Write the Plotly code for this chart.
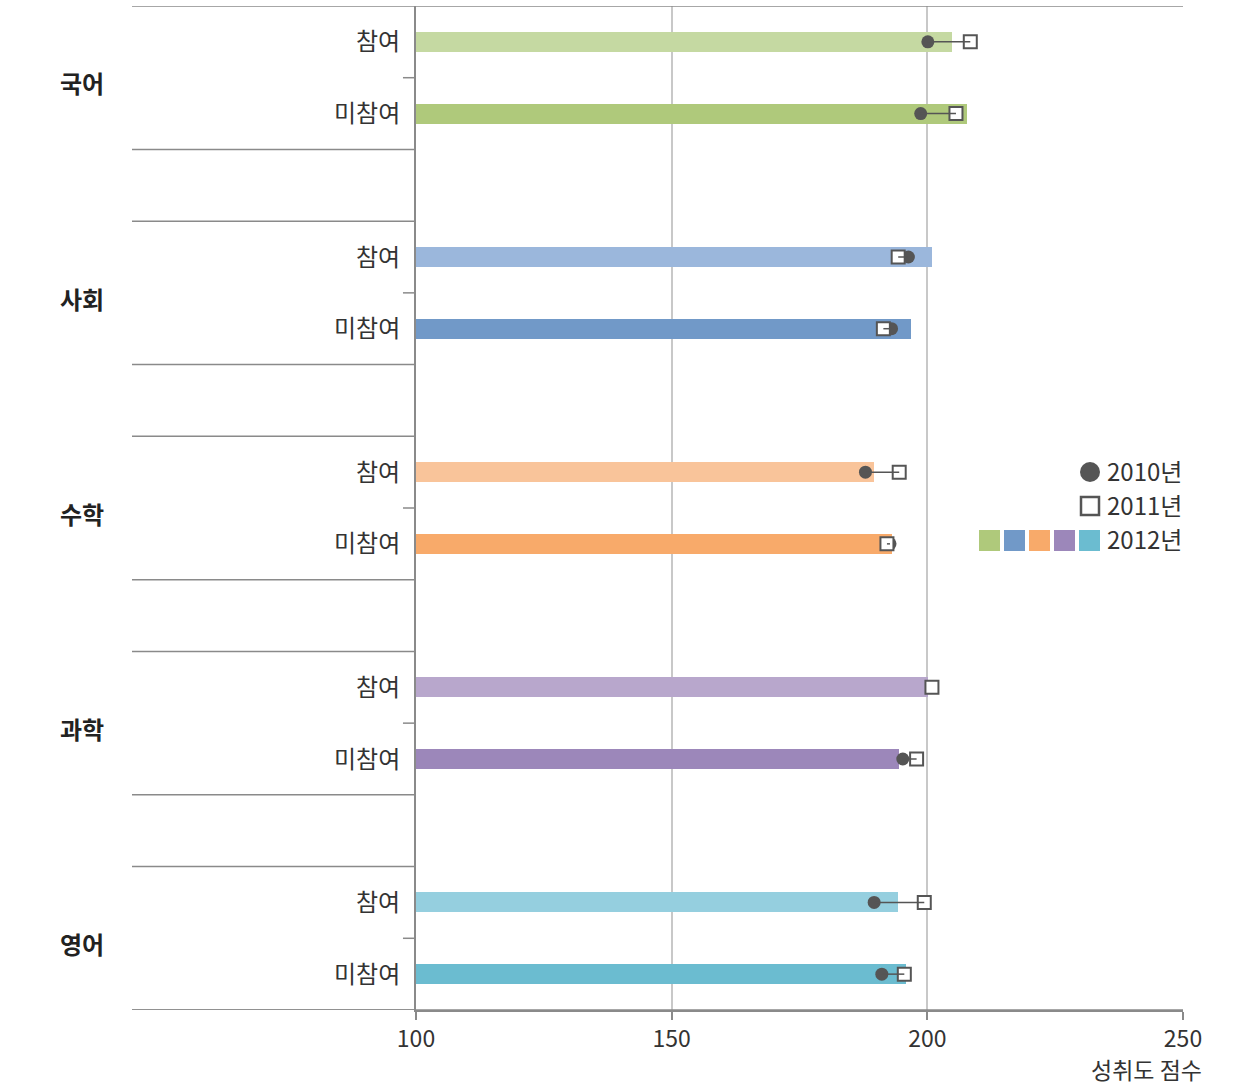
import plotly.graph_objects as go

subjects = ["국어", "사회", "수학", "과학", "영어"]
groups = ["참여", "미참여"]
score_2012 = [[204.8, 207.8], [200.9, 196.8], [189.6, 193.0], [200.1, 194.5], [194.2, 195.8]]
score_2010 = [[200.1, 198.7], [196.3, 193.0], [187.9, 192.7], [200.9, 195.2], [189.6, 191.1]]
score_2011 = [[208.4, 205.6], [194.3, 191.4], [194.5, 192.1], [200.9, 197.9], [199.4, 195.5]]
bar_colors = [["#c5d9a2", "#afc97b"], ["#9bb7dc", "#7199c8"], ["#f9c49a", "#f8aa6a"],
              ["#b8a7cc", "#9c87ba"], ["#95cfdf", "#6bbcd0"]]
legend_colors = ["#afc97b", "#7199c8", "#f8aa6a", "#9c87ba", "#6bbcd0"]
x_ticks = [100, 150, 200, 250]
x_title = "성취도 점수"
legend_labels = ["2010년", "2011년", "2012년"]

FONT = "Noto Sans CJK KR"
AX = "#8a8a8a"
DARK = "#555555"

fig = go.Figure()

ys, xs, cols = [], [], []
x10, x11 = [], []
for g in range(len(subjects)):
    for r in range(2):
        ys.append(3 * g + 0.5 + r)
        xs.append(score_2012[g][r])
        cols.append(bar_colors[g][r])
        x10.append(score_2010[g][r])
        x11.append(score_2011[g][r])

fig.add_trace(go.Bar(x=xs, y=ys, orientation="h", marker=dict(color=cols, line=dict(width=0)),
                     width=0.28, showlegend=False, hoverinfo="x"))

fig.add_trace(go.Scatter(x=x10, y=ys, mode="markers",
                         marker=dict(symbol="circle", size=13, color=DARK), showlegend=False))
fig.add_trace(go.Scatter(x=x11, y=ys, mode="markers",
                         marker=dict(symbol="square", size=13, color="white",
                                     line=dict(color=DARK, width=2)), showlegend=False))
lx, ly = [], []
for a, b, y in zip(x10, x11, ys):
    lx += [a, b, None]
    ly += [y, y, None]
fig.add_trace(go.Scatter(x=lx, y=ly, mode="lines", line=dict(color=DARK, width=1.5),
                         showlegend=False, hoverinfo="skip"))

shapes = []
annotations = []
left = (132 - 416) / 767
for g in range(len(subjects)):
    for yy in (3 * g, 3 * g + 2):
        x1 = 1 if yy == 0 else 0
        shapes.append(dict(type="line", xref="paper", yref="y", x0=left, x1=x1, y0=yy, y1=yy,
                           line=dict(color=AX, width=1.5)))
    shapes.append(dict(type="line", xref="paper", yref="y", x0=-0.017, x1=0, y0=3 * g + 1, y1=3 * g + 1,
                       line=dict(color=AX, width=1.5)))
    annotations.append(dict(text=subjects[g], xref="paper", yref="y", x=(82 - 416) / 767, y=3 * g + 1.1,
                            xanchor="center", yanchor="middle", showarrow=False, yshift=2,
                            font=dict(family=FONT, size=24, color="#222", weight=600)))
    for r in range(2):
        annotations.append(dict(text=groups[r], xref="paper", yref="y", x=0, xshift=-14, yshift=2,
                                y=3 * g + 0.5 + r, xanchor="right", yanchor="middle", showarrow=False,
                                font=dict(family=FONT, size=24, color="#333")))
# bottom line extended to the left
shapes.append(dict(type="line", xref="paper", yref="y", x0=left, x1=1, y0=14, y1=14,
                   line=dict(color=AX, width=1.5)))

annotations.append(dict(text=x_title, xref="paper", yref="paper", x=(1204 - 416) / 767, y=(1010 - 1069) / 1004,
                        xanchor="right", yanchor="middle", showarrow=False,
                        font=dict(family=FONT, size=23, color="#333")))

# legend
def px(x):
    return (x - 416) / 767

def py(y):
    return (1010 - y) / 1004

shapes.append(dict(type="circle", xref="paper", yref="paper", x0=px(1080), x1=px(1100),
                   y0=py(482), y1=py(462), fillcolor=DARK, line=dict(width=0)))
shapes.append(dict(type="rect", xref="paper", yref="paper", x0=px(1081), x1=px(1099),
                   y0=py(515), y1=py(497), fillcolor="white", line=dict(color=DARK, width=2.5)))
for i, c in enumerate(legend_colors):
    x0 = 979 + 25 * i
    shapes.append(dict(type="rect", xref="paper", yref="paper", x0=px(x0), x1=px(x0 + 21),
                       y0=py(551), y1=py(530), fillcolor=c, line=dict(width=0)))
for i, lab in enumerate(legend_labels):
    annotations.append(dict(text=lab, xref="paper", yref="paper", x=px(1105), y=py(470 + 34 * i),
                            xanchor="left", yanchor="middle", showarrow=False,
                            font=dict(family=FONT, size=24, color="#333")))

fig.update_layout(
    width=1240, height=1085,
    margin=dict(l=416, r=57, t=6, b=75),
    plot_bgcolor="white", paper_bgcolor="white",
    shapes=shapes, annotations=annotations,
    bargap=0,
    xaxis=dict(range=[100, 250], tickvals=x_ticks, showgrid=True, gridcolor="#c8c8c8", gridwidth=1.5,
               showline=True, linecolor=AX, linewidth=1.5, ticks="outside", ticklen=8,
               tickcolor=AX, tickwidth=1.5, zeroline=False,
               tickfont=dict(family=FONT, size=23, color="#333")),
    yaxis=dict(range=[14, 0], showticklabels=False, showgrid=False, zeroline=False,
               showline=True, linecolor=AX, linewidth=1.5, ticks=""),
)

fig.write_html("out.html")
